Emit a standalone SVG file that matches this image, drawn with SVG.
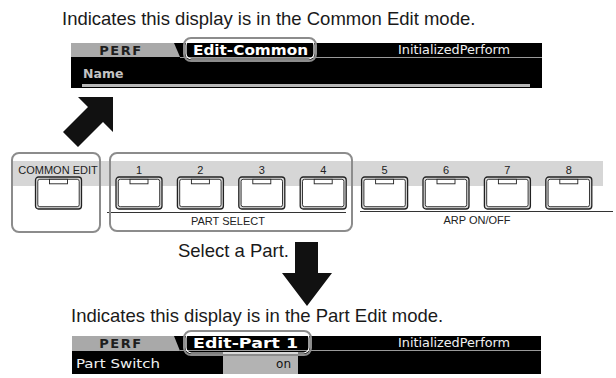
<svg xmlns="http://www.w3.org/2000/svg" xmlns:xlink="http://www.w3.org/1999/xlink" width="616" height="378" viewBox="0 0 616 378">
<style>
.cap{font-family:"Liberation Sans",Arial,sans-serif;font-size:18.5px;fill:#1a1a1a}
.lbl{font-family:"Liberation Sans",Arial,sans-serif;font-size:11px;fill:#222;text-anchor:middle}
.perf{font-family:"DejaVu Sans",sans-serif;font-weight:bold;font-size:13px;fill:#1e1e1e;text-anchor:middle;letter-spacing:1.5px}
.mode{font-family:"DejaVu Sans",sans-serif;font-weight:bold;font-size:13.5px;fill:#fff}
.lcd{font-family:"DejaVu Sans",sans-serif;font-size:12px;fill:#f0f0f0}
.callout{fill:none;stroke:#8c8c8c;stroke-width:2}
.callin{fill:none;stroke:#fff;stroke-width:1.2}
.grp{fill:none;stroke:#8c8c8c;stroke-width:2}
.tab{fill:#a9a9a9}
.rule{stroke:#333;stroke-width:1}
</style>
<defs>
<g id="btn">
<rect x="0" y="0" width="46" height="32" rx="3" fill="#d9d9d9" stroke="#222" stroke-width="1.3"/>
<rect x="2.3" y="2.3" width="41.4" height="27.4" rx="2" fill="#fff" stroke="#222" stroke-width="0.9"/>
<rect x="14" y="2.3" width="18" height="4.5" fill="#fff" stroke="#222" stroke-width="0.9"/>
</g>
</defs>

<g id="caption-top"><text class="cap" x="62" y="25">Indicates this display is in the Common Edit mode.</text></g>

<g id="display-common">
<rect x="71" y="43" width="471" height="45" fill="#000"/>
<polygon class="tab" points="71,43 174,43 180,57 71,57"/>
<line x1="180" y1="57.5" x2="542" y2="57.5" stroke="#9a9a9a" stroke-width="1"/>
<text class="perf" x="121" y="55">PERF</text>
<text class="mode" x="193" y="55" textLength="115" lengthAdjust="spacingAndGlyphs">Edit-Common</text>
<text class="lcd" x="398" y="54" textLength="112" lengthAdjust="spacingAndGlyphs">InitializedPerform</text>
<text x="83" y="78" font-family="DejaVu Sans,sans-serif" font-weight="bold" font-size="12.5" fill="#c4c4c4">Name</text>
<rect x="82" y="84" width="448" height="3" fill="#b8b8b8"/>
<rect class="callout" x="184" y="38" width="132" height="23" rx="7"/>
<rect class="callin" x="186" y="40" width="128" height="19" rx="5.5"/>
</g>

<g id="panel">
<rect x="12" y="161" width="591" height="25" fill="#d6d6d6"/>
<line class="rule" x1="107" y1="212.5" x2="346" y2="212.5"/>
<line class="rule" x1="360" y1="211.5" x2="613" y2="211.5"/>
<text class="lbl" x="228" y="225">PART SELECT</text>
<text class="lbl" x="477" y="224">ARP ON/OFF</text>
</g>

<g id="common-edit">
<text class="lbl" x="58" y="174" font-size="11.5">COMMON EDIT</text>
<use xlink:href="#btn" x="35.5" y="177"/>
<rect class="grp" x="12" y="153" width="88" height="79" rx="7"/>
</g>

<g id="part-select">
<text class="lbl" x="139" y="174">1</text>
<text class="lbl" x="200.4" y="174">2</text>
<text class="lbl" x="261.8" y="174">3</text>
<text class="lbl" x="323.2" y="174">4</text>
<use xlink:href="#btn" x="116" y="177"/>
<use xlink:href="#btn" x="177.4" y="177"/>
<use xlink:href="#btn" x="238.8" y="177"/>
<use xlink:href="#btn" x="300.2" y="177"/>
<rect class="grp" x="110" y="153" width="242" height="78" rx="7"/>
</g>

<g id="arp">
<text class="lbl" x="384.6" y="174">5</text>
<text class="lbl" x="446" y="174">6</text>
<text class="lbl" x="507.4" y="174">7</text>
<text class="lbl" x="568.8" y="174">8</text>
<use xlink:href="#btn" x="361.6" y="177"/>
<use xlink:href="#btn" x="423" y="177"/>
<use xlink:href="#btn" x="484.4" y="177"/>
<use xlink:href="#btn" x="545.8" y="177"/>
</g>

<g id="connectors">
<polygon points="113,97 78,97 88,107 63,132 78,147 103,122 113,132" fill="#111"/>
<polygon points="295,242 318,242 318,273 332,273 307,306 282,273 295,273" fill="#111"/>
</g>

<g id="select-label"><text class="cap" x="289" y="257" text-anchor="end">Select a Part.</text></g>

<g id="caption-bottom"><text class="cap" x="71" y="322">Indicates this display is in the Part Edit mode.</text></g>

<g id="display-part">
<rect x="72" y="336" width="469" height="38" fill="#000"/>
<polygon class="tab" points="72,336 174,336 180,351 72,351"/>
<line x1="180" y1="350.5" x2="541" y2="350.5" stroke="#9a9a9a" stroke-width="1"/>
<text class="perf" x="121" y="348">PERF</text>
<text class="mode" x="193" y="348" textLength="105" lengthAdjust="spacingAndGlyphs">Edit-Part 1</text>
<text class="lcd" x="398" y="347" textLength="112" lengthAdjust="spacingAndGlyphs">InitializedPerform</text>
<text class="lcd" x="76" y="368" textLength="84" lengthAdjust="spacingAndGlyphs">Part Switch</text>
<rect x="223" y="352" width="75" height="22" fill="#b3b3b3"/>
<text x="291" y="368" font-family="DejaVu Sans,sans-serif" font-size="12" fill="#111" text-anchor="end">on</text>
<rect class="callout" x="184" y="331" width="127" height="24" rx="7"/>
<rect class="callin" x="186" y="333" width="123" height="20" rx="5.5"/>
</g>
</svg>
